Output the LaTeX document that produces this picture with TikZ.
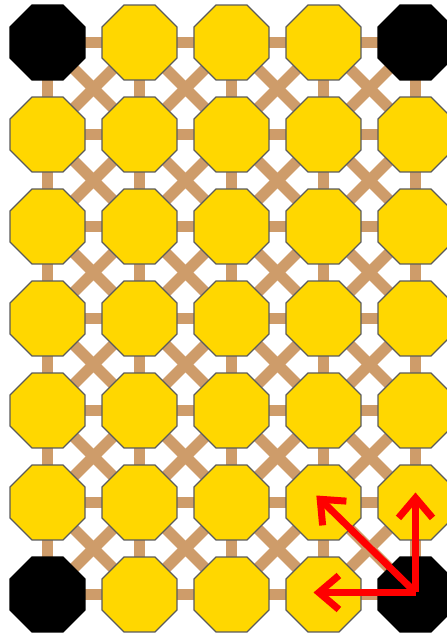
\documentclass[tikz,border=0pt]{standalone}
\usetikzlibrary{shapes.geometric,arrows.meta,backgrounds}
\definecolor{linktan}{RGB}{206,156,106}
\definecolor{octgold}{RGB}{255,215,0}
\definecolor{octedge}{RGB}{90,90,90}
\begin{document}
\begin{tikzpicture}[x=1pt,y=1pt,
  oct/.style={regular polygon,regular polygon sides=8,minimum size=81pt,inner sep=0pt,outer sep=0pt,draw=octedge,line width=1.2pt,fill=octgold},
  blk/.style={oct,fill=black,draw=black},
  link/.style={draw=linktan,line width=11pt},
  move/.style={draw=red,line width=7pt,line join=miter,shorten >=-10pt,-{Straight Barb[length=20pt,width=34pt]}}]
\useasboundingbox (0,0) rectangle (447,633);
\foreach \i in {0,...,4}{
  \foreach \j in {0,...,6}{
    \pgfmathtruncatemacro\corner{((\i==0)||(\i==4))&&((\j==0)||(\j==6))}
    \ifnum\corner=1 \def\st{blk}\else\def\st{oct}\fi
    \node[\st] (n\i\j) at ({47.5+92*\i},{633-42.5-92*\j}) {};
  }
}
\begin{pgfonlayer}{background}
\foreach \i in {0,...,4}{
  \foreach \j in {0,...,5}{
    \pgfmathtruncatemacro\jj{\j+1}
    \draw[link] (n\i\j.center) -- (n\i\jj.center);
  }
}
\foreach \i in {0,...,3}{
  \pgfmathtruncatemacro\ii{\i+1}
  \foreach \j in {0,...,6}{
    \draw[link] (n\i\j.center) -- (n\ii\j.center);
  }
  \foreach \j in {0,...,5}{
    \pgfmathtruncatemacro\jj{\j+1}
    \draw[link] (n\i\j.center) -- (n\ii\jj.center);
    \draw[link] (n\ii\j.center) -- (n\i\jj.center);
  }
}
\end{pgfonlayer}
\coordinate (o) at ([yshift=2pt]n46.center);
\draw[move] (o) -- (n45.center);
\draw[move] (o) -- (n35.center);
\draw[move] (o) -- (n36.center |- o);
\end{tikzpicture}
\end{document}
